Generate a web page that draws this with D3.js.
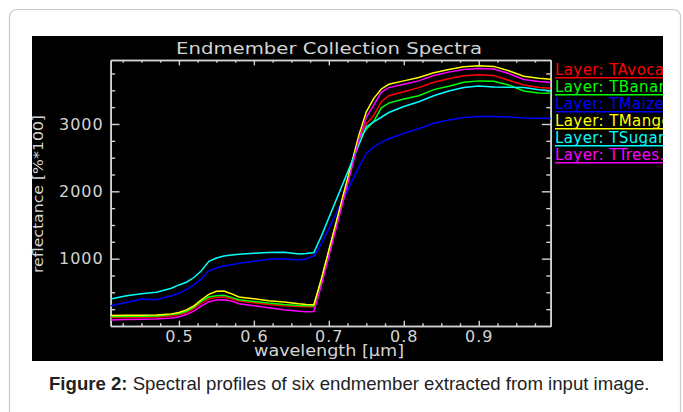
<!DOCTYPE html>
<html><head><meta charset="utf-8">
<script src="https://cdn.jsdelivr.net/npm/d3@7/dist/d3.min.js"></script>
<style>body{margin:0;background:#fff;}svg{display:block}</style>
</head><body>
<svg id="c" width="683" height="412"></svg>
<script>
// ---------------- data ----------------
const chartTitle = "Endmember Collection Spectra";
const xTitle = "wavelength [\u03bcm]";
const yTitle = "reflectance [%*100]";
const caption = ["Figure 2:", " Spectral profiles of six endmember extracted from input image."];

const wavelengths = [0.409,0.43,0.45,0.47,0.49,0.50,0.51,0.52,0.53,0.54,0.55,0.56,0.57,0.58,0.60,0.62,0.64,0.66,0.67,0.68,0.69,0.70,0.71,0.72,0.73,0.74,0.75,0.76,0.77,0.78,0.80,0.82,0.84,0.86,0.88,0.90,0.92,0.94,0.96,0.98,0.996];

const tAvocado  = [125,125,130,135,150,165,200,260,340,400,425,430,405,370,345,320,300,290,285,285,660,1090,1520,1950,2370,2800,3000,3130,3330,3420,3480,3540,3620,3670,3715,3730,3720,3650,3580,3540,3530];
const tBanana   = [140,140,145,150,170,185,220,280,370,430,450,455,425,390,365,340,320,305,300,298,680,1110,1540,1960,2380,2780,2920,3040,3240,3310,3370,3420,3510,3560,3620,3640,3635,3580,3490,3460,3455];
const tMaize    = [300,350,400,390,450,485,540,610,700,820,860,890,910,930,960,990,1000,980,1000,1040,1220,1450,1680,1900,2130,2360,2560,2660,2730,2780,2860,2930,3010,3060,3095,3110,3110,3105,3090,3085,3080];
const tMango    = [155,160,160,165,180,200,240,300,390,470,515,520,480,430,405,375,355,330,320,315,700,1125,1550,1980,2400,2830,3180,3380,3520,3590,3640,3690,3760,3810,3850,3865,3855,3790,3710,3680,3665];
const tSugarcane= [400,450,480,500,560,610,650,720,820,960,1010,1040,1055,1065,1080,1090,1095,1070,1075,1090,1335,1606,1877,2148,2419,2690,2960,3030,3100,3170,3260,3330,3420,3490,3540,3565,3550,3545,3540,3510,3495];
const tTrees    = [90,95,100,105,120,135,170,220,300,360,385,390,370,330,300,270,240,220,210,215,600,1030,1460,1890,2320,2760,3100,3280,3470,3540,3590,3640,3720,3770,3810,3825,3815,3750,3660,3630,3615];

const seriesNames  = ["Layer: TAvocado","Layer: TBanana","Layer: TMaize","Layer: TMango","Layer: TSugarcane","Layer: TTrees.roi"];
const seriesValues = [tAvocado,tBanana,tMaize,tMango,tSugarcane,tTrees];
const seriesColors = ["#ff0000","#00ff00","#0000ff","#ffff00","#00ffff","#ff00ff"];

const xMajorTicks = [0.5,0.6,0.7,0.8,0.9];
const xMinorTicks = [0.425,0.45,0.475,0.525,0.55,0.575,0.625,0.65,0.675,0.725,0.75,0.775,0.825,0.85,0.875,0.925,0.95,0.975];
const yMajorTicks = [1000,2000,3000];
const yMinorTicks = [250,500,750,1250,1500,1750,2250,2500,2750,3250,3500,3750];
const xDomain = [0.409,0.996];
const yDomain = [0,3950];

// ---------------- layout ----------------
const svg = d3.select("#c");
const panel = {x:32,y:36,w:631,h:325};
const plot = {l:110.7,t:60,r:550.7,b:326};
const fg = "#d4d4d4";
const idlFont = "'DejaVu Sans', sans-serif";

// card
svg.append("rect").attr("x",9.5).attr("y",9.5).attr("width",671).attr("height",430)
  .attr("rx",7).attr("fill","#fff").attr("stroke","#c8c8c8").attr("stroke-width",1.2);

svg.append("defs").append("clipPath").attr("id","pclip").append("rect")
  .attr("x",panel.x).attr("y",panel.y).attr("width",panel.w).attr("height",panel.h);

svg.append("rect").attr("x",panel.x).attr("y",panel.y).attr("width",panel.w).attr("height",panel.h).attr("fill","#000");

const x = d3.scaleLinear().domain(xDomain).range([plot.l,plot.r]);
const y = d3.scaleLinear().domain(yDomain).range([plot.b,plot.t]);

const H = plot.b-plot.t, W = plot.r-plot.l;
const xMajLen = 0.02*H, yMajLen = 0.02*W;

function styleAxis(g){
  g.selectAll("path.domain").attr("stroke",fg).attr("stroke-width",1.6);
  g.selectAll(".tick line").attr("stroke",fg).attr("stroke-width",1.4);
  g.selectAll(".tick text").attr("fill",fg).attr("font-family",idlFont).attr("font-size",16).attr("letter-spacing","1px");
}
// bottom
svg.append("g").attr("transform",`translate(0,${plot.b})`)
  .call(d3.axisBottom(x).tickValues(xMajorTicks).tickSize(-xMajLen).tickSizeOuter(0).tickPadding(5).tickFormat(d3.format(".1f")))
  .call(styleAxis);
svg.append("g").attr("transform",`translate(0,${plot.b})`)
  .call(d3.axisBottom(x).tickValues(xMinorTicks).tickSize(-xMajLen/2).tickSizeOuter(0).tickFormat(""))
  .call(styleAxis);
// top
svg.append("g").attr("transform",`translate(0,${plot.t})`)
  .call(d3.axisTop(x).tickValues(xMajorTicks).tickSize(-xMajLen).tickSizeOuter(0).tickFormat(""))
  .call(styleAxis);
svg.append("g").attr("transform",`translate(0,${plot.t})`)
  .call(d3.axisTop(x).tickValues(xMinorTicks).tickSize(-xMajLen/2).tickSizeOuter(0).tickFormat(""))
  .call(styleAxis);
// left
svg.append("g").attr("transform",`translate(${plot.l},0)`)
  .call(d3.axisLeft(y).tickValues(yMajorTicks).tickSize(-yMajLen).tickSizeOuter(0).tickPadding(7).tickFormat(d3.format("d")))
  .call(styleAxis);
svg.append("g").attr("transform",`translate(${plot.l},0)`)
  .call(d3.axisLeft(y).tickValues(yMinorTicks).tickSize(-yMajLen/2).tickSizeOuter(0).tickFormat(""))
  .call(styleAxis);
// right
svg.append("g").attr("transform",`translate(${plot.r},0)`)
  .call(d3.axisRight(y).tickValues(yMajorTicks).tickSize(-yMajLen).tickSizeOuter(0).tickFormat(""))
  .call(styleAxis);
svg.append("g").attr("transform",`translate(${plot.r},0)`)
  .call(d3.axisRight(y).tickValues(yMinorTicks).tickSize(-yMajLen/2).tickSizeOuter(0).tickFormat(""))
  .call(styleAxis);

// lines
const line = d3.line().x(d=>x(d[0])).y(d=>y(d[1]));
seriesValues.forEach((vals,i)=>{
  svg.append("path").datum(wavelengths.map((w,j)=>[w,vals[j]]))
    .attr("d",line).attr("fill","none").attr("stroke",seriesColors[i]).attr("stroke-width",1.5);
});

// titles
svg.append("text").attr("x",329).attr("y",53.5).attr("text-anchor","middle")
  .attr("fill",fg).attr("font-family",idlFont).attr("font-size",16)
  .attr("textLength",306).attr("lengthAdjust","spacingAndGlyphs").text(chartTitle);
svg.append("text").attr("x",329).attr("y",355.5).attr("text-anchor","middle")
  .attr("fill",fg).attr("font-family",idlFont).attr("font-size",16)
  .attr("textLength",150).attr("lengthAdjust","spacingAndGlyphs").text(xTitle);
svg.append("text").attr("transform","translate(42.5,194) rotate(-90)").attr("text-anchor","middle")
  .attr("fill",fg).attr("font-family",idlFont).attr("font-size",14)
  .attr("textLength",158).attr("lengthAdjust","spacingAndGlyphs").text(yTitle);

// legend (clipped at the panel edge, as in the original)
const leg = svg.append("g").attr("clip-path","url(#pclip)");
seriesNames.forEach((n,i)=>{
  const by = 77.7 + i*17;
  leg.append("text").attr("x",555).attr("y",by-3).attr("fill",seriesColors[i])
    .attr("font-family",idlFont).attr("font-size",15).attr("letter-spacing","0.4px").text(n);
  leg.append("line").attr("x1",555).attr("x2",700).attr("y1",by).attr("y2",by)
    .attr("stroke",seriesColors[i]).attr("stroke-width",1.5);
});

// caption
const cap = svg.append("text").attr("x",49).attr("y",390).attr("fill","#222")
  .attr("font-family","'Liberation Sans', Arial, sans-serif").attr("font-size",18.6);
cap.append("tspan").attr("font-weight","bold").text(caption[0]);
cap.append("tspan").text(caption[1]);
</script>
</body></html>
